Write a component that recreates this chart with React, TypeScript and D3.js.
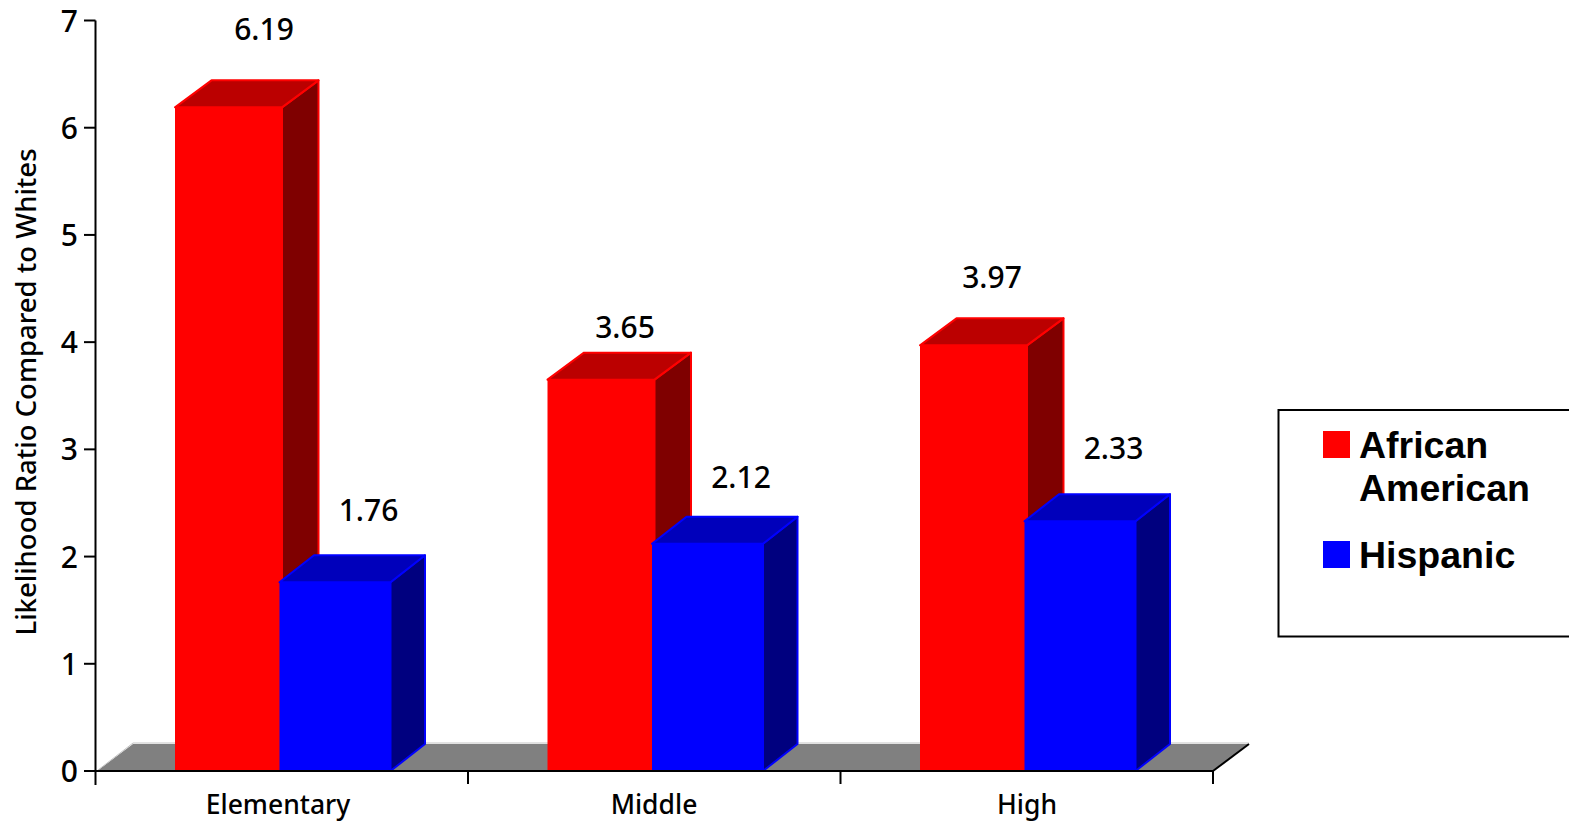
import React from "react";
import * as d3 from "d3";

const categories = ["Elementary", "Middle", "High"];
const africanAmerican = [6.19, 3.65, 3.97];
const hispanic = [1.76, 2.12, 2.33];
const valueTicks = [0, 1, 2, 3, 4, 5, 6, 7];

const AXIS_FONT = "'Noto Sans', 'Open Sans', sans-serif";
const LEGEND_FONT = "'Liberation Sans', Arial, sans-serif";

const y = d3.scaleLinear().domain([0, 7]).range([771, 20.5]);
const x = d3.scaleBand<string>().domain(categories).range([95.5, 1213]).padding(0);
const edges = [95.5, ...categories.map((c) => (x(c) as number) + x.bandwidth())];

// Oblique rise of the 3D extrusion
const DY = -27;
const FLOOR_DX = 36;

// Value labels are hand-placed relative to the bar front: [dx from centre, dy from top]
const redLabelNudge: [number, number][] = [[35.5, -67], [24, -42], [18.5, -57.5]];
const blueLabelNudge: [number, number][] = [[33.5, -61], [33.5, -56], [33.5, -62]];

const seriesStyle = [
  { name: "African American", values: africanAmerican, nudge: redLabelNudge, offset: 79.5, width: 107, dx: 36.5, front: "#ff0000", top: "#bb0000", side: "#7f0000", edge: "#ff0000" },
  { name: "Hispanic", values: hispanic, nudge: blueLabelNudge, offset: 184, width: 111, dx: 34.5, front: "#0000ff", top: "#0000bb", side: "#00007f", edge: "#0000ff" },
];

const poly = (pts: [number, number][]) => d3.line()(pts) + "Z";

function Bar3D({ left, width, value, s }: { left: number; width: number; value: number; s: (typeof seriesStyle)[number] }) {
  const yTop = y(value);
  const yBase = y(0);
  const right = left + width;
  const DX = s.dx;
  return (
    <g stroke={s.edge} strokeWidth={2} strokeLinejoin="round">
      <path fill={s.side} d={poly([[right, yTop], [right + DX, yTop + DY], [right + DX, yBase + DY], [right, yBase]])} />
      <path fill={s.top} d={poly([[left, yTop], [left + DX, yTop + DY], [right + DX, yTop + DY], [right, yTop]])} />
      <rect x={left} y={yTop} width={width} height={yBase - yTop} fill={s.front} stroke="none" />
    </g>
  );
}

export default function App() {
  const base = y(0);
  return (
    <svg width={1569} height={821} style={{ position: "absolute", left: 0, top: 0, background: "#fff" }}>
      {/* floor */}
      <path
        d={poly([[97, base], [97 + FLOOR_DX, base + DY], [1249, base + DY], [1213, base]])}
        fill="#808080"
      />
      <path d={`M98,${base - 1}L${97 + FLOOR_DX},${base + DY - 1}H1249`} fill="none" stroke="#c4c4c4" strokeWidth={1} />
      <path d={`M1213,${base}L1249,${base + DY}`} fill="none" stroke="#000" strokeWidth={2} />

      {/* bars, one group at a time so the later series overlaps the earlier one */}
      {categories.map((c, i) =>
        seriesStyle.map((s) => (
          <Bar3D key={c + s.name} left={(x(c) as number) + s.offset} width={s.width} value={s.values[i]} s={s} />
        ))
      )}

      {/* axes */}
      <g stroke="#000" strokeWidth={2} fill="none">
        <path d={`M95.5,${y(7)}V${base + 14}`} />
        <path d={`M84,${base}H1213`} />
        {valueTicks.map((t) => (
          <path key={t} d={`M84,${y(t)}H95.5`} />
        ))}
        {edges.slice(1).map((e) => (
          <path key={e} d={`M${e},${base}V${base + 13}`} />
        ))}
      </g>
      <g fontFamily={AXIS_FONT} fontSize={30} fontWeight={500} fill="#000" textAnchor="end">
        {valueTicks.map((t) => (
          <text key={t} x={78} y={y(t) + 11}>{t}</text>
        ))}
      </g>
      <g fontFamily={AXIS_FONT} fontSize={26.5} fontWeight={500} fill="#000" textAnchor="middle">
        {categories.map((c, i) => (
          <text key={c} x={[278, 654, 1027][i]} y={814}>{c}</text>
        ))}
      </g>
      <text
        transform="translate(36,392) rotate(-90)"
        fontFamily={AXIS_FONT}
        fontSize={27.5}
        fontWeight={500}
        textAnchor="middle"
        fill="#000"
      >
        Likelihood Ratio Compared to Whites
      </text>

      {/* value labels above each bar */}
      <g fontFamily={AXIS_FONT} fontSize={30} fontWeight={500} fill="#000" textAnchor="middle">
        {categories.map((c, i) =>
          seriesStyle.map((s) => (
            <text
              key={c + s.name}
              x={(x(c) as number) + s.offset + s.width / 2 + s.nudge[i][0]}
              y={y(s.values[i]) + s.nudge[i][1]}
            >
              {s.values[i].toFixed(2)}
            </text>
          ))
        )}
      </g>

      {/* legend */}
      <rect x={1278.5} y={410} width={300} height={226.5} fill="#fff" stroke="#000" strokeWidth={2} />
      <rect x={1323} y={431} width={27} height={27} fill="#ff0000" />
      <rect x={1323} y={541} width={27} height={27} fill="#0000ff" />
      <g fontFamily={LEGEND_FONT} fontWeight={700} fontSize={37.5} fill="#000">
        <text x={1359} y={457.5}>African</text>
        <text x={1359} y={500.5}>American</text>
        <text x={1359} y={567.5}>Hispanic</text>
      </g>
    </svg>
  );
}
